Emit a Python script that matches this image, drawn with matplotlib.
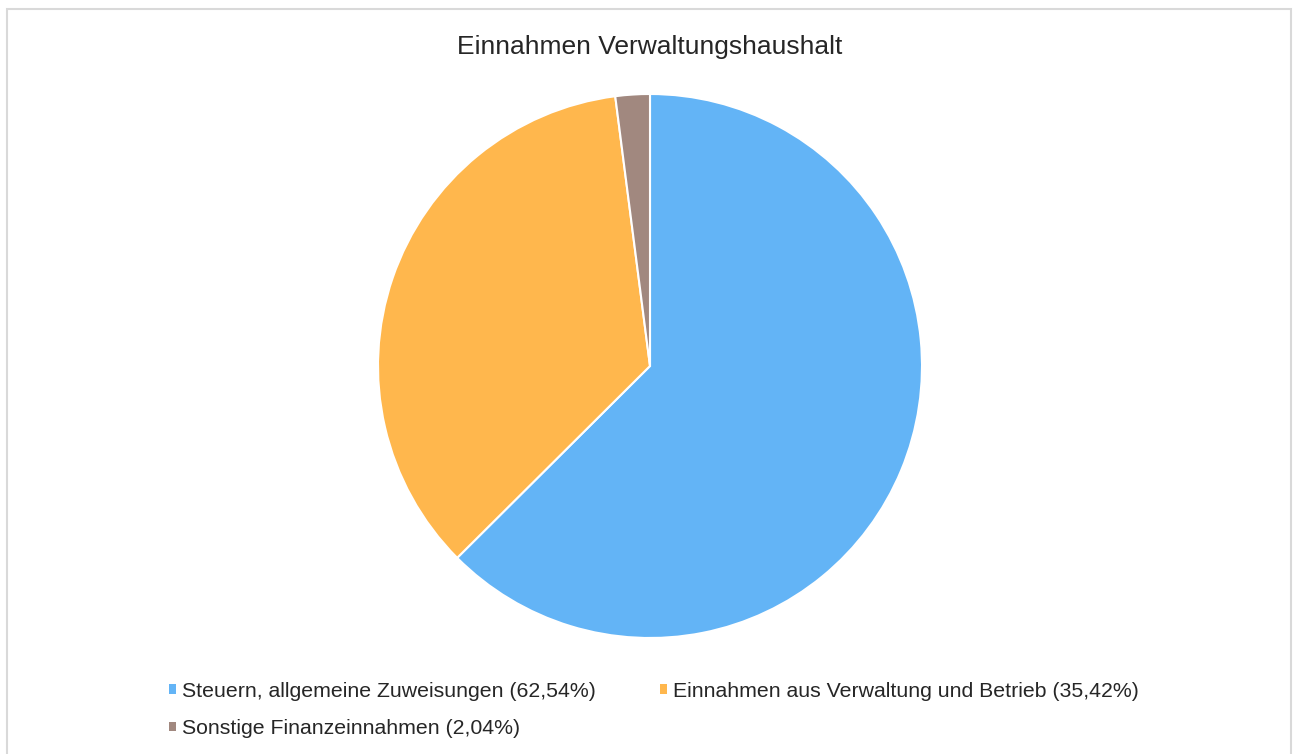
import matplotlib.pyplot as plt
from matplotlib.patches import Rectangle

plt.rcParams['font.family'] = ['Liberation Sans', 'DejaVu Sans']

# data
labels = ['Steuern, allgemeine Zuweisungen', 'Einnahmen aus Verwaltung und Betrieb',
          'Sonstige Finanzeinnahmen']
shares = [62.54, 35.42, 2.04]
colors = ['#63b4f6', '#ffb74d', '#a1887f']

W, H = 1293, 754
fig = plt.figure(figsize=(W / 100, H / 100), dpi=100)

# light grey frame around the chart
fig.patches.append(Rectangle((7 / W, -0.01), (1291 - 7) / W, 1 - 9 / H + 0.01,
                             transform=fig.transFigure, fill=False,
                             edgecolor='#d9d9d9', linewidth=1.5))

cx, cy, r = 650, 366, 272
ax = fig.add_axes([(cx - r) / W, (H - cy - r) / H, 2 * r / W, 2 * r / H])
wedges, _ = ax.pie(shares, colors=colors, startangle=90, counterclock=False,
                   radius=1, wedgeprops=dict(edgecolor='white', linewidth=1.5))
ax.set_xlim(-1, 1)
ax.set_ylim(-1, 1)
ax.set_aspect('equal')
ax.axis('off')

fig.text(650 / W, 1 - 47 / H, 'Einnahmen Verwaltungshaushalt', ha='center', va='center',
         fontsize=19, color='#262626')

leg_labels = [f'{l} ({str(s).replace(".", ",")}%)' for l, s in zip(labels, shares)]
# legend fills column-wise, so reorder to get row-wise reading order
order = [0, 2, 1]
fig.legend([wedges[i] for i in order], [leg_labels[i] for i in order], ncol=2,
           loc='upper left', bbox_to_anchor=(158 / W, 1 - 671 / H), frameon=False,
           fontsize=15.3, handlelength=0.33, handleheight=0.33, handletextpad=0.3,
           columnspacing=3.0, labelspacing=0.87, labelcolor='#262626',
           borderpad=0)
for p in fig.legends[0].get_patches():
    p.set_linewidth(0)

fig.savefig('out.png', dpi=100)
